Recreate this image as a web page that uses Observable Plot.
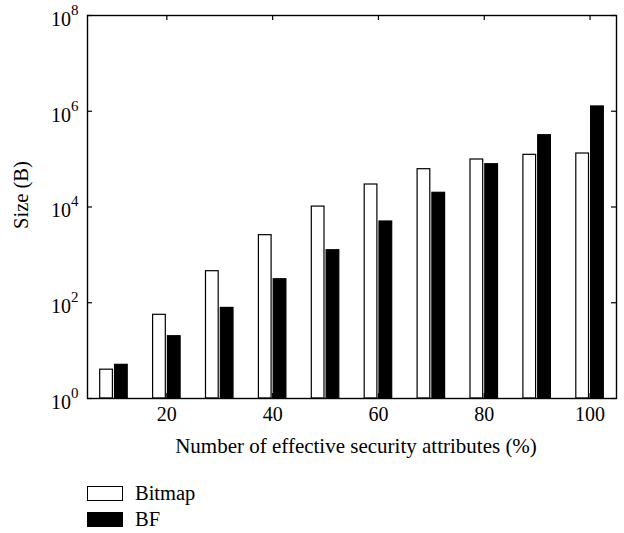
<!DOCTYPE html>
<html><head><meta charset="utf-8">
<script src="https://cdn.jsdelivr.net/npm/d3@7"></script>
<script src="https://cdn.jsdelivr.net/npm/@observablehq/plot@0.6"></script>
<style>
body{margin:0;background:#fff;font-family:"Liberation Serif",serif;color:#000;}
#wrap{position:relative;width:624px;height:533px;overflow:hidden;}
.leg{position:absolute;left:87px;height:15px;display:flex;align-items:center;font-family:"Liberation Serif",serif;font-size:20.5px;line-height:15px;}
.sw{box-sizing:border-box;width:36px;height:15px;border:1.3px solid #000;margin-right:12px;}
</style></head><body><div id="wrap"></div>
<script>
const percents = [10, 20, 30, 40, 50, 60, 70, 80, 90, 100];
const bitmap = [4.0, 56, 456, 2580, 10200, 29500, 61600, 98200, 123000, 131000];
const bf = [5.05, 20, 78, 310, 1250, 4980, 19800, 78300, 316000, 1260000];
const seriesNames = ["Bitmap", "BF"];
const seriesColors = ["#ffffff", "#000000"];
const xTicks = [20, 40, 60, 80, 100];
const yTicks = [1, 1e2, 1e4, 1e6, 1e8];
const xLabel = "Number of effective security attributes (%)";
const yLabel = "Size (B)";

const rows = percents.flatMap((p, i) => [
  {pct: p, series: seriesNames[0], value: bitmap[i]},
  {pct: p, series: seriesNames[1], value: bf[i]}
]);
const offset = {Bitmap: -1.4, BF: 1.4};
const half = 1.2;

const W = 624, H = 470, mL = 87, mR = 8, mT = 15, mB = H - 398;
const pw = W - mL - mR, ph = H - mT - mB;

const chart = Plot.plot({
  width: W, height: H,
  marginLeft: mL, marginRight: mR, marginTop: mT, marginBottom: mB,
  style: {fontFamily: '"Liberation Serif", serif', fontSize: "20px", color: "#000", background: "#fff", overflow: "visible"},
  x: {domain: [5, 105]},
  y: {type: "log", domain: [1, 1e8]},
  color: {domain: seriesNames, range: seriesColors},
  marks: [
    Plot.rect(rows, {
      x1: d => d.pct + offset[d.series] - half,
      x2: d => d.pct + offset[d.series] + half,
      y1: () => 1,
      y2: "value",
      fill: "series",
      stroke: "#000",
      strokeWidth: 1.2
    }),
    Plot.frame({stroke: "#000", strokeWidth: 1.4}),
    Plot.tickY(yTicks, {y: d => d, insetRight: pw - 5, stroke: "#000", strokeWidth: 1.2}),
    Plot.tickY(yTicks, {y: d => d, insetLeft: pw - 5, stroke: "#000", strokeWidth: 1.2}),
    Plot.tickX(xTicks, {x: d => d, insetTop: ph - 5, stroke: "#000", strokeWidth: 1.2}),
    Plot.tickX(xTicks, {x: d => d, insetBottom: ph - 5, stroke: "#000", strokeWidth: 1.2}),
    Plot.axisY({ticks: yTicks, tickSize: 0, tickPadding: 9, dy: 4, label: null,
      tickFormat: d => "10^" + Math.round(Math.log10(d))}),
    Plot.axisX({ticks: xTicks, tickSize: 0, tickPadding: 8, label: null, tickFormat: d => String(d)}),
    Plot.text([xLabel], {frameAnchor: "bottom", textAnchor: "middle", dx: 4, dy: 54, lineAnchor: "bottom", fontSize: 21, text: d => d, fill: "#000"}),
    Plot.text([yLabel], {frameAnchor: "left", textAnchor: "middle", rotate: -90, dx: -60, dy: -12, lineAnchor: "bottom", fontSize: 20.5, text: d => d, fill: "#000"})
  ]
});

d3.select(chart).selectAll('g[aria-label="y-axis tick label"] text').each(function() {
  const s = d3.select(this);
  const parts = s.text().split("^");
  if (parts.length === 2) {
    s.text(parts[0]);
    s.append("tspan").attr("dy", "-11px").attr("font-size", "15px").text(parts[1]);
  }
});

const wrap = document.getElementById("wrap");
wrap.appendChild(chart);
const legTops = [486, 512];
seriesNames.forEach((name, i) => {
  const row = document.createElement("div");
  row.className = "leg";
  row.style.top = legTops[i] + "px";
  const sw = document.createElement("div");
  sw.className = "sw";
  sw.style.background = seriesColors[i];
  const lab = document.createElement("span");
  lab.textContent = name;
  row.appendChild(sw);
  row.appendChild(lab);
  wrap.appendChild(row);
});
</script>
</body></html>
